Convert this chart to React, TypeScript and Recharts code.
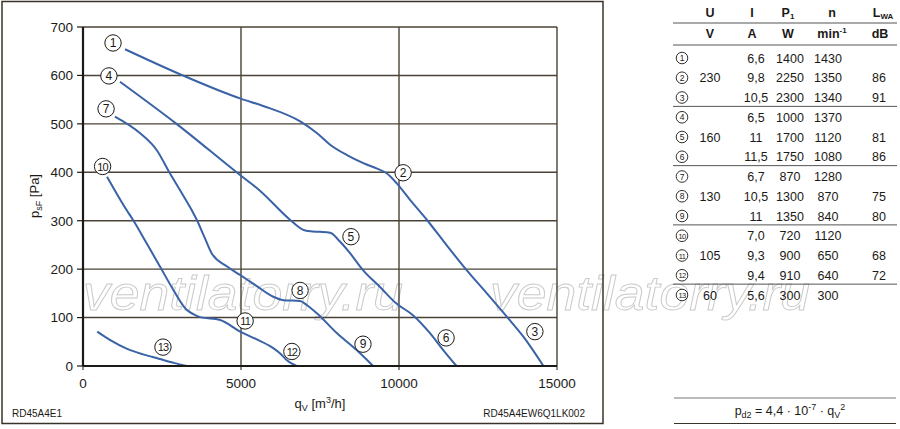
import {
  CartesianGrid,
  Line,
  LineChart,
  ReferenceDot,
  XAxis,
  YAxis,
} from 'recharts'

// curve 1-2-3 (230 V)
const curveA = [
  [1330, 654], [3120, 601], [4990, 552], [5700, 537], [6900, 504], [7400, 481],
  [7820, 457], [8340, 436], [8870, 419], [9290, 408], [9610, 398], [9930, 377],
  [10350, 343], [10880, 302], [11500, 250], [12140, 198], [12780, 150],
  [13410, 102], [13930, 61], [14570, 0],
]
// curve 4-5-6 (160 V)
const curveB = [
  [1170, 587], [2960, 500], [4860, 400], [5600, 362], [6550, 302], [6970, 281],
  [7200, 278], [7500, 277], [7820, 275], [8130, 257], [8450, 233], [8860, 198],
  [9400, 163], [9900, 130], [10440, 105], [10980, 68], [11400, 33], [11820, 0],
]
// curve 7-8-9 (130 V)
const curveC = [
  [1010, 515], [1800, 481], [2330, 446], [2750, 398], [3100, 360], [3440, 322],
  [3600, 302], [3850, 265], [4070, 233], [4550, 206], [4970, 188], [5500, 165],
  [6020, 143], [6340, 136], [6870, 134], [7100, 125], [7400, 109], [8030, 68],
  [8660, 33], [9180, 0],
]
// curve 10-11-12 (105 V)
const curveD = [
  [760, 391], [1380, 322], [1580, 302], [2000, 255], [2440, 205], [2860, 157],
  [3280, 116], [3490, 107], [3700, 101], [4340, 95], [4970, 71], [5500, 55],
  [6020, 37], [6240, 26], [6450, 12], [6760, 0],
]
// curve 13 (60 V)
const curveE = [
  [450, 71], [850, 54], [1380, 36], [1900, 24], [2400, 15], [2900, 6], [3280, 0],
]

const curves = [curveA, curveB, curveC, curveD, curveE]

const labelIds = ['1', '2', '3', '4', '5', '6', '7', '8', '9', '10', '11', '12', '13']
const labelQ = [950, 10130, 14300, 820, 8480, 11490, 730, 6870, 8860, 620, 5130, 6610, 2530]
const labelP = [667, 399, 71, 599, 267, 58, 531, 156, 45, 412, 93, 30, 39]

const xTicks = [0, 5000, 10000, 15000]
const yTicks = [0, 100, 200, 300, 400, 500, 600, 700]

// table on the right
const rowVoltage = ['', '230', '', '', '160', '', '', '130', '', '', '105', '', '60']
const rowCurrent = ['6,6', '9,8', '10,5', '6,5', '11', '11,5', '6,7', '10,5', '11', '7,0', '9,3', '9,4', '5,6']
const rowPower = ['1400', '2250', '2300', '1000', '1700', '1750', '870', '1300', '1350', '720', '900', '910', '300']
const rowSpeed = ['1430', '1350', '1340', '1370', '1120', '1080', '1280', '870', '840', '1120', '650', '640', '300']
const rowLevel = ['', '86', '91', '', '81', '86', '', '75', '80', '', '68', '72', '']
const groupEnds = [3, 6, 9, 12]

const toPoints = (c: number[][]) => c.map(([q, p]) => ({ q, p }))

const FONT = "'Liberation Sans', Arial, Helvetica, sans-serif"
const INK = '#1c1a16'
const GRID = '#4a4236'
const BLUE = '#3a62a6'

function CircleLabel(props: any) {
  const { cx, cy, id } = props
  if (cx == null || cy == null) return null
  const two = id.length > 1
  return (
    <g>
      <circle cx={cx} cy={cy} r={8.2} fill="#fff" stroke={INK} strokeWidth={1} />
      <text
        x={cx}
        y={cy + 4.2}
        textAnchor="middle"
        fontSize={two ? 11 : 12}
        fontFamily={FONT}
        fill={INK}
        letterSpacing={two ? -0.9 : 0}
      >
        {id}
      </text>
    </g>
  )
}

function Watermark() {
  return (
    <svg width={900} height={429} style={{ position: 'absolute', left: 0, top: 0 }}>
      {[83, 490].map((x) => (
        <text
          key={x}
          x={x}
          y={310}
          fontSize={48}
          fontStyle="italic"
          fontFamily={FONT}
          fill="#fff"
          stroke="#c9c9c9"
          strokeWidth={0.9}
          textLength={320}
          lengthAdjust="spacingAndGlyphs"
        >
          ventilatorry.ru
        </text>
      ))}
    </svg>
  )
}

function Overlay() {
  const rowY = (i: number) => 58 + i * 19.75
  return (
    <svg
      width={900}
      height={429}
      style={{ position: 'absolute', left: 0, top: 0, pointerEvents: 'none' }}
    >
      {/* frame of the chart panel */}
      <rect x={2} y={1.5} width={601} height={422} fill="none" stroke="#3a3328" strokeWidth={1.5} />

      {/* axis titles */}
      <text
        transform="translate(39,196) rotate(-90)"
        textAnchor="middle"
        fontSize={13}
        fontFamily={FONT}
        fill={INK}
      >
        p<tspan fontSize={9} dy={3}>sF</tspan>
        <tspan dy={-3}> [Pa]</tspan>
      </text>
      <text x={320} y={408} textAnchor="middle" fontSize={13} fontFamily={FONT} fill={INK}>
        q<tspan fontSize={9} dy={3}>V</tspan>
        <tspan dy={-3}> [m</tspan>
        <tspan fontSize={9} dy={-5}>3</tspan>
        <tspan dy={5}>/h]</tspan>
      </text>
      <text x={12} y={417} fontSize={10} fontFamily={FONT} fill={INK}>
        RD45A4E1
      </text>
      <text x={585} y={417} textAnchor="end" fontSize={10} fontFamily={FONT} fill={INK}>
        RD45A4EW6Q1LK002
      </text>

      {/* table header */}
      <g fontFamily={FONT} fontWeight="bold" fontSize={12.5} fill={INK} textAnchor="middle">
        <text x={710} y={17}>U</text>
        <text x={752} y={17}>I</text>
        <text x={788} y={17}>
          P<tspan fontSize={8} dy={2}>1</tspan>
        </text>
        <text x={832} y={17}>n</text>
        <text x={883} y={17}>
          L<tspan fontSize={8} dy={2}>WA</tspan>
        </text>
        <text x={710} y={38}>V</text>
        <text x={752} y={38}>A</text>
        <text x={788} y={38}>W</text>
        <text x={832} y={38}>
          min<tspan fontSize={8} dy={-5}>-1</tspan>
        </text>
        <text x={880} y={38}>dB</text>
      </g>
      <line x1={673} x2={897} y1={23} y2={23} stroke="#555" strokeWidth={1} />
      <line x1={673} x2={897} y1={45} y2={45} stroke="#555" strokeWidth={1} />

      {/* table rows */}
      <g fontFamily={FONT} fontSize={12.5} fill={INK}>
        {labelIds.map((id, i) => {
          const y = rowY(i)
          return (
            <g key={id}>
              <circle cx={682} cy={y} r={5.8} fill="#fff" stroke={INK} strokeWidth={0.9} />
              <text
                x={682}
                y={y + 3}
                fontSize={id.length > 1 ? 7.5 : 8.5}
                textAnchor="middle"
                letterSpacing={id.length > 1 ? -0.6 : 0}
              >
                {id}
              </text>
              <text x={710} y={y + 4.5} textAnchor="middle">{rowVoltage[i]}</text>
              <text x={756} y={y + 4.5} textAnchor="middle">{rowCurrent[i]}</text>
              <text x={790} y={y + 4.5} textAnchor="middle">{rowPower[i]}</text>
              <text x={828} y={y + 4.5} textAnchor="middle">{rowSpeed[i]}</text>
              <text x={879} y={y + 4.5} textAnchor="middle">{rowLevel[i]}</text>
            </g>
          )
        })}
      </g>
      {groupEnds.map((g) => {
        const y = (rowY(g - 1) + rowY(g)) / 2 - 1
        return <line key={g} x1={673} x2={897} y1={y} y2={y} stroke="#555" strokeWidth={1} />
      })}

      {/* formula */}
      <line x1={674} x2={896} y1={398} y2={398} stroke="#777" strokeWidth={1} />
      <line x1={674} x2={896} y1={423.5} y2={423.5} stroke="#3a3328" strokeWidth={1.2} />
      <text x={790} y={415} textAnchor="middle" fontSize={12.5} fontFamily={FONT} fill={INK}>
        p<tspan fontSize={9} dy={3}>d2</tspan>
        <tspan dy={-3}> = 4,4 · 10</tspan>
        <tspan fontSize={9} dy={-5}>-7</tspan>
        <tspan dy={5}> · q</tspan>
        <tspan fontSize={9} dy={3}>V</tspan>
        <tspan fontSize={9} dy={-8}>2</tspan>
      </text>
    </svg>
  )
}

export default function App() {
  return (
    <div
      style={{
        position: 'absolute',
        left: 0,
        top: 0,
        width: 900,
        height: 429,
        background: '#fff',
        overflow: 'hidden',
      }}
    >
      <Watermark />
      <div style={{ position: 'absolute', left: 0, top: 0 }}>
        <LineChart
          width={900}
          height={429}
          margin={{ top: 27, right: 343, bottom: 33, left: 0 }}
        >
          <CartesianGrid stroke={GRID} strokeWidth={1.4} />
          <XAxis
            type="number"
            dataKey="q"
            domain={[0, 15000]}
            ticks={xTicks}
            height={30}
            tickSize={4}
            tickMargin={8}
            stroke={INK}
            axisLine={{ stroke: INK, strokeWidth: 2.2 }}
            tickLine={{ stroke: INK }}
            tick={{ fill: INK, fontSize: 13.5, fontFamily: FONT }}
          />
          <YAxis
            type="number"
            dataKey="p"
            domain={[0, 700]}
            ticks={yTicks}
            width={83}
            tickSize={6}
            tickMargin={4}
            axisLine={{ stroke: INK, strokeWidth: 2.2 }}
            tickLine={{ stroke: INK, strokeWidth: 1.2 }}
            tick={{ fill: INK, fontSize: 13.5, fontFamily: FONT }}
          />
          {curves.map((c, i) => (
            <Line
              key={i}
              data={toPoints(c)}
              dataKey="p"
              type="monotone"
              stroke={BLUE}
              strokeWidth={2}
              dot={false}
              activeDot={false}
              isAnimationActive={false}
            />
          ))}
          {labelIds.map((id, i) => (
            <ReferenceDot
              key={id}
              x={labelQ[i]}
              y={labelP[i]}
              r={8}
              shape={(p: any) => <CircleLabel {...p} id={id} />}
            />
          ))}
        </LineChart>
      </div>
      <Overlay />
    </div>
  )
}
